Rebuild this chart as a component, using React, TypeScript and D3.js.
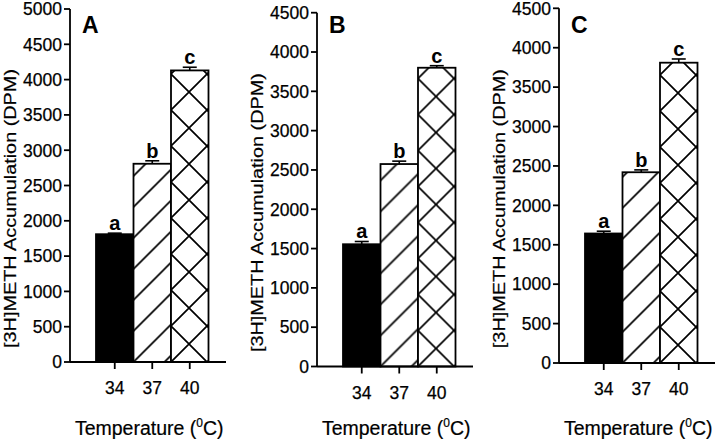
import React from "react";
import * as d3 from "d3";

// ---- Data ----
const temperatures = ["34", "37", "40"];
const panelNames = ["A", "B", "C"];
const sigLetters = ["a", "b", "c"];

const meansA = [1810, 2808, 4130];
const semA = [15, 42, 45];
const meansB = [1555, 2575, 3800];
const semB = [35, 37, 26];
const meansC = [1643, 2420, 3810];
const semC = [29, 30, 47];

const yTicksA = [0, 500, 1000, 1500, 2000, 2500, 3000, 3500, 4000, 4500, 5000];
const yTicksB = [0, 500, 1000, 1500, 2000, 2500, 3000, 3500, 4000, 4500];
const yTicksC = [0, 500, 1000, 1500, 2000, 2500, 3000, 3500, 4000, 4500];

const yLabel = "[3H]METH Accumulation (DPM)";

// ---- Layout ----
const FONT = "'Liberation Sans', Arial, Helvetica, sans-serif";
const layouts = [
  { axisX: 70, top: 9, bottom: 362, yMax: 5000 },
  { axisX: 317, top: 12.7, bottom: 366.5, yMax: 4500 },
  { axisX: 559, top: 8.3, bottom: 363, yMax: 4500 },
];
const panelData = [
  { means: meansA, sem: semA, ticks: yTicksA },
  { means: meansB, sem: semB, ticks: yTicksB },
  { means: meansC, sem: semC, ticks: yTicksC },
];

const STEP = 37.5;
const GAP = 26;
const HATCH = 31;
const CROSS = 36;

function Panel({ idx }: { idx: number }) {
  const L = layouts[idx];
  const D = panelData[idx];
  const y = d3.scaleLinear().domain([0, L.yMax]).range([L.bottom, L.top]);
  const x = d3
    .scaleBand<string>()
    .domain(temperatures)
    .range([L.axisX + GAP, L.axisX + GAP + STEP * temperatures.length])
    .padding(0);
  const xEnd = L.axisX + 156;
  const sw = 1.8;

  const midBar = (x(temperatures[1]) as number) + x.bandwidth() / 2;

  return (
    <g>
      <defs>
        {temperatures.map((t, i) => {
          const bx = x(t) as number;
          if (i === 1) {
            const P = HATCH;
            return (
              <pattern
                key={t}
                id={`hatch-${idx}`}
                patternUnits="userSpaceOnUse"
                x={bx}
                y={L.bottom}
                width={P}
                height={P}
              >
                <path
                  d={`M0,${P} L${P},0 M${-P / 4},${P / 4} L${P / 4},${-P / 4} M${(3 * P) / 4},${(5 * P) / 4} L${(5 * P) / 4},${(3 * P) / 4}`}
                  stroke="#000"
                  strokeWidth={1.7}
                />
              </pattern>
            );
          }
          if (i === 2) {
            const P = CROSS;
            return (
              <pattern
                key={t}
                id={`cross-${idx}`}
                patternUnits="userSpaceOnUse"
                x={bx}
                y={L.bottom}
                width={P}
                height={P}
              >
                <path
                  d={`M0,${P} L${P},0 M${-P / 4},${P / 4} L${P / 4},${-P / 4} M${(3 * P) / 4},${(5 * P) / 4} L${(5 * P) / 4},${(3 * P) / 4} M0,0 L${P},${P} M${-P / 4},${(3 * P) / 4} L${P / 4},${(5 * P) / 4} M${(3 * P) / 4},${-P / 4} L${(5 * P) / 4},${P / 4}`}
                  stroke="#000"
                  strokeWidth={1.7}
                />
              </pattern>
            );
          }
          return null;
        })}
      </defs>

      {/* bars */}
      {temperatures.map((t, i) => {
        const bx = x(t) as number;
        const v = D.means[i];
        const fill = i === 0 ? "#000" : i === 1 ? `url(#hatch-${idx})` : `url(#cross-${idx})`;
        return (
          <g key={t}>
            {i > 0 && (
              <rect x={bx} y={y(v)} width={x.bandwidth()} height={y(0) - y(v)} fill="#fff" />
            )}
            <rect
              x={bx}
              y={y(v)}
              width={x.bandwidth()}
              height={y(0) - y(v)}
              fill={fill}
              stroke="#000"
              strokeWidth={sw}
            />
          </g>
        );
      })}

      {/* error bars + letters */}
      {temperatures.map((t, i) => {
        const cx = (x(t) as number) + x.bandwidth() / 2;
        const v = D.means[i];
        const e = v + D.sem[i];
        return (
          <g key={"e" + t}>
            <line x1={cx} x2={cx} y1={y(v)} y2={y(e)} stroke="#000" strokeWidth={1.6} />
            <line x1={cx - 7} x2={cx + 7} y1={y(e)} y2={y(e)} stroke="#000" strokeWidth={1.6} />
            <text
              x={cx}
              y={y(e) - 3}
              textAnchor="middle"
              fontFamily={FONT}
              fontWeight="bold"
              fontSize={20}
            >
              {sigLetters[i]}
            </text>
          </g>
        );
      })}

      {/* axes */}
      <line x1={L.axisX} x2={L.axisX} y1={y(L.yMax)} y2={y(0)} stroke="#000" strokeWidth={sw} />
      <line x1={L.axisX} x2={xEnd} y1={y(0)} y2={y(0)} stroke="#000" strokeWidth={sw} />
      {D.ticks.map((tv) => (
        <g key={"yt" + tv}>
          <line x1={L.axisX - 6} x2={L.axisX} y1={y(tv)} y2={y(tv)} stroke="#000" strokeWidth={sw} />
          <text
            x={L.axisX - 8}
            y={y(tv)}
            dy="0.36em"
            textAnchor="end"
            fontFamily={FONT}
            fontSize={17.5}
            stroke="#000"
            strokeWidth={0.25}
          >
            {tv}
          </text>
        </g>
      ))}
      {temperatures.map((t) => {
        const cx = (x(t) as number) + x.bandwidth() / 2;
        return (
          <g key={"xt" + t}>
            <line x1={cx} x2={cx} y1={y(0)} y2={y(0) + 7} stroke="#000" strokeWidth={sw} />
            <text
              x={cx}
              y={y(0) + 32}
              textAnchor="middle"
              fontFamily={FONT}
              fontSize={17.5}
              stroke="#000"
              strokeWidth={0.25}
            >
              {t}
            </text>
          </g>
        );
      })}

      {/* panel letter */}
      <text x={L.axisX + 12} y={33} fontFamily={FONT} fontWeight="bold" fontSize={23}>
        {panelNames[idx]}
      </text>

      {/* y label */}
      <text
        transform={`translate(${L.axisX - 54},${(L.top + L.bottom) / 2 + 23}) rotate(-90)`}
        textAnchor="middle"
        fontFamily={FONT}
        fontSize={16}
        textLength={279}
        lengthAdjust="spacingAndGlyphs"
        stroke="#000"
        strokeWidth={0.2}
      >
        {yLabel}
      </text>

      {/* x label */}
      <text
        x={midBar - 3}
        y={435}
        textAnchor="middle"
        fontFamily={FONT}
        fontSize={19.5}
        stroke="#000"
        strokeWidth={0.2}
      >
        <tspan>Temperature (</tspan>
        <tspan dy={-8} fontSize={12}>
          0
        </tspan>
        <tspan dy={8}>C)</tspan>
      </text>
    </g>
  );
}

export default function App() {
  return (
    <svg
      width={720}
      height={444}
      viewBox="0 0 720 444"
      style={{ position: "absolute", left: 0, top: 0, background: "#fff" }}
    >
      <rect x={0} y={0} width={720} height={444} fill="#fff" />
      {layouts.map((_, i) => (
        <Panel key={i} idx={i} />
      ))}
    </svg>
  );
}
